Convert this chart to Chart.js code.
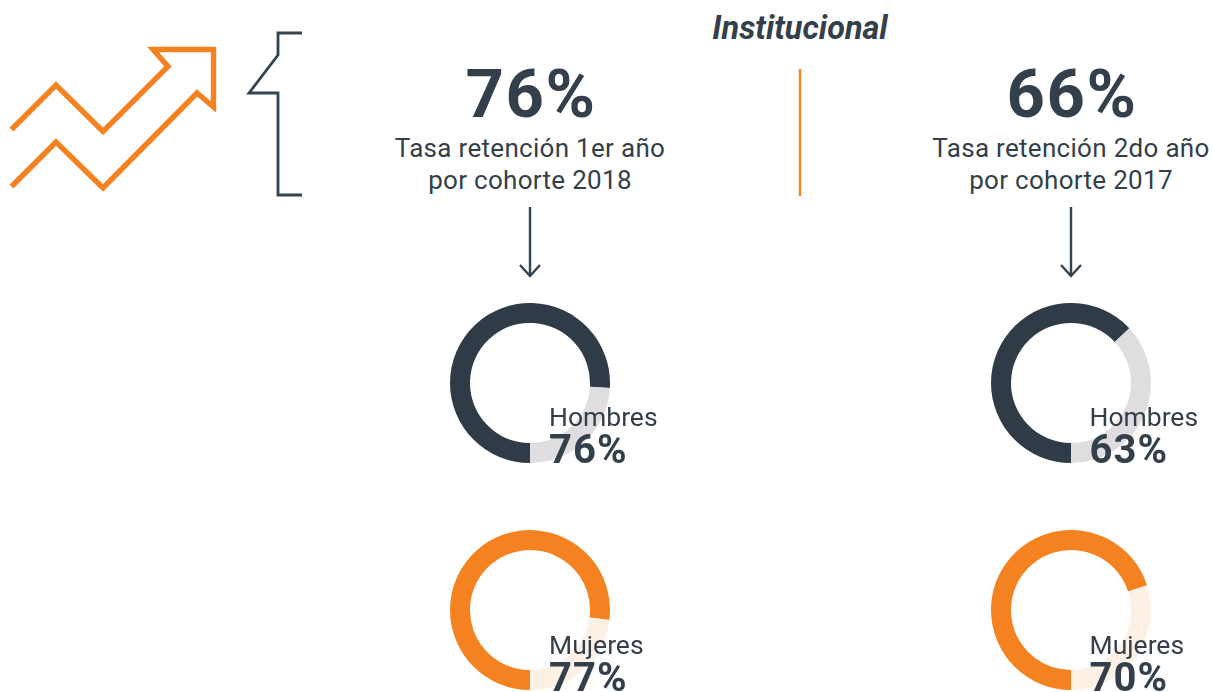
<!DOCTYPE html>
<html><head><meta charset="utf-8">
<script src="https://cdn.jsdelivr.net/npm/chart.js@4"></script>
<style>
html,body{margin:0;padding:0;background:#fff;width:1213px;height:692px;overflow:hidden;font-family:Roboto,sans-serif;color:#333f4a}
.c{position:absolute;width:170px;height:170px}
.t{position:absolute;white-space:nowrap;line-height:1}
.m{transform:translateX(-50%);text-align:center}
svg{position:absolute;left:0;top:0}
</style></head><body>
<svg width="1213" height="692" fill="none">
<polyline points="11.5,129.5 56,85 103,131.5 168,66.5 153,49.5 213.5,49.5 213.5,107 197,93 103,188 56,142 11.5,186.5" stroke="#f58220" stroke-width="5.4"/>
<polyline points="302,33 278,33 278,55 249,93 278,93 278,195 302,195" stroke="#334350" stroke-width="2.8"/>
<line x1="800" y1="69" x2="800" y2="196" stroke="#f58220" stroke-width="2.4"/>
<g stroke="#334350" stroke-width="2.4"><path d="M530 207V276M520 265L530 276L540 265"/><path d="M1071 207V276M1061 265L1071 276L1081 265"/></g>
</svg>
<div id="root"></div>
<script>
const cohortHeadlines = ["76%", "66%"];
const cohortLines1 = ["Tasa retención 1er año", "Tasa retención 2do año"];
const cohortLines2 = ["por cohorte 2018", "por cohorte 2017"];
const hombres = [76, 63];
const mujeres = [77, 70];
const hombresColors = ["#2f3c47", "#e0dde0"];
const mujeresColors = ["#f58220", "#fdf0e4"];
const centersX = [530, 1070.5];
const centersY = [382.5, 610];
const root = document.getElementById('root');
function text(str, x, y, css, cls){
  const d = document.createElement('div');
  d.className = 't ' + (cls||'');
  d.textContent = str; d.style.left = x+'px'; d.style.top = y+'px'; d.style.cssText += css;
  root.appendChild(d);
}
function ring(cx, cy, val, colors){
  const box = document.createElement('div');
  box.className = 'c'; box.style.left = (cx-85)+'px'; box.style.top = (cy-85)+'px';
  const cv = document.createElement('canvas'); box.appendChild(cv); root.appendChild(box);
  new Chart(cv, {type:'doughnut',
    data:{labels:['Retenidos','Resto'],datasets:[{data:[val,100-val],backgroundColor:colors,borderWidth:0}]},
    options:{responsive:true,maintainAspectRatio:false,animation:false,rotation:180,cutout:'75%',radius:80,
      layout:{padding:0},plugins:{legend:{display:false},tooltip:{enabled:false}}}});
}
[0,1].forEach(i=>{
  ring(centersX[i], centersY[0], hombres[i], hombresColors);
  ring(centersX[i], centersY[1], mujeres[i], mujeresColors);
});
text('Institucional', 800, 12, 'font-size:32.4px;font-weight:700;font-style:italic', 'm');
[0,1].forEach(i=>{
  const x = centersX[i];
  const mx = i ? 1071 : 530;
  text(cohortHeadlines[i], mx + 1, 61, 'font-size:67px;font-weight:700;letter-spacing:1.5px', 'm');
  text(cohortLines1[i], mx, 135, 'font-size:26px;letter-spacing:.3px', 'm');
  text(cohortLines2[i], mx, 166.5, 'font-size:26px;letter-spacing:.3px', 'm');
  const lx = x + 19;
  text('Hombres', lx, 403.5, 'font-size:26.5px');
  text(hombres[i]+'%', lx, 430, 'font-size:40px;font-weight:700;letter-spacing:1px');
  text('Mujeres', lx, 631.5, 'font-size:26.5px');
  text(mujeres[i]+'%', lx, 658, 'font-size:40px;font-weight:700;letter-spacing:1px');
});
</script>
</body></html>
